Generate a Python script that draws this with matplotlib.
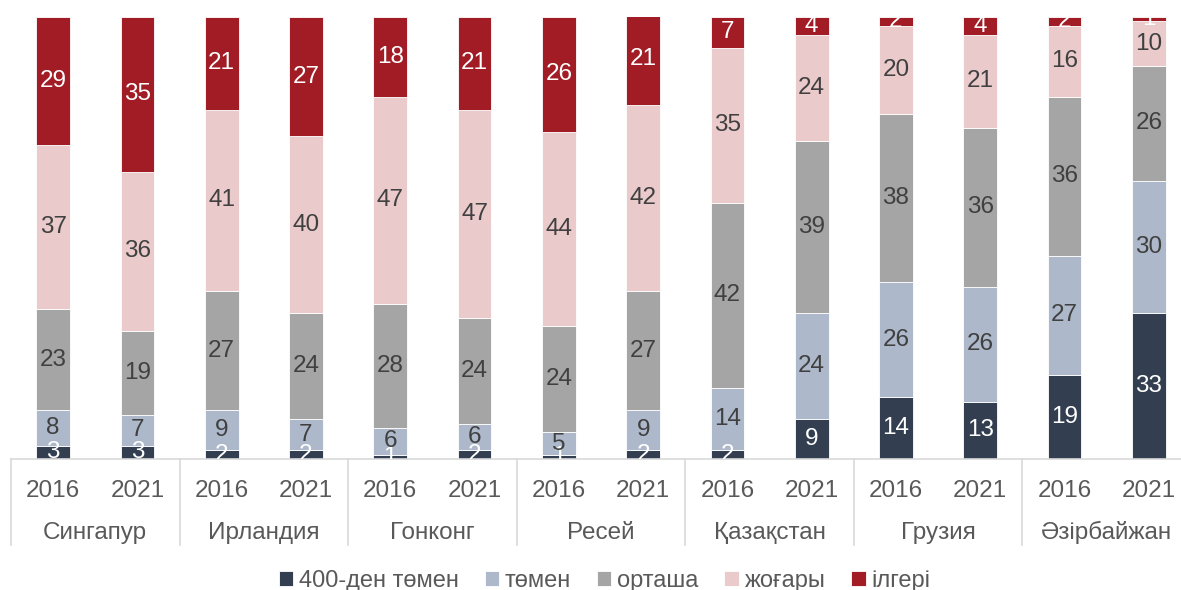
import matplotlib.pyplot as plt
import matplotlib.transforms as mtransforms
import numpy as np

plt.rcParams['font.family'] = ['Liberation Sans', 'DejaVu Sans']

countries = ['Сингапур', 'Ирландия', 'Гонконг', 'Ресей', 'Қазақстан', 'Грузия', 'Әзірбайжан']
years = ['2016', '2021']
levels = ['400-ден төмен', 'төмен', 'орташа', 'жоғары', 'ілгері']

below400 = [3, 3, 2, 2, 1, 2, 1, 2, 2, 9, 14, 13, 19, 33]
low = [8, 7, 9, 7, 6, 6, 5, 9, 14, 24, 26, 26, 27, 30]
medium = [23, 19, 27, 24, 28, 24, 24, 27, 42, 39, 38, 36, 36, 26]
high = [37, 36, 41, 40, 47, 47, 44, 42, 35, 24, 20, 21, 16, 10]
advanced = [29, 35, 21, 27, 18, 21, 26, 21, 7, 4, 2, 4, 2, 1]

series = [below400, low, medium, high, advanced]
colors = ['#333F50', '#ADB9CA', '#A5A5A5', '#EACACB', '#A11C24']
label_colors = ['white', '#404040', '#404040', '#404040', 'white']

fig = plt.figure(figsize=(11.81, 5.90), dpi=100)
ax = fig.add_axes([11 / 1181, 131 / 590, 1180 / 1181, 442 / 590])

x = np.arange(len(below400))
bottom = np.zeros(len(x))
for vals, col, lc, name in zip(series, colors, label_colors, levels):
    vals = np.array(vals)
    ax.bar(x, vals, 0.4, bottom=bottom, color=col, edgecolor='white',
           linewidth=0.6, label=name)
    for xi, b, v in zip(x, bottom, vals):
        ax.text(xi, b + v / 2, str(v), ha='center', va='center', fontsize=17.5,
                color=lc, clip_on=True)
    bottom += vals

ax.set_xlim(-0.5, len(x) - 0.5)
ax.set_ylim(0, 100)
for s in ['left', 'right', 'top']:
    ax.spines[s].set_visible(False)
ax.spines['bottom'].set_color('#D9D9D9')
ax.spines['bottom'].set_linewidth(1.2)
ax.set_yticks([])
ax.set_xticks(x, years * len(countries))
ax.tick_params(axis='x', length=0, pad=15, labelsize=17.5, labelcolor='#595959')

trans = mtransforms.blended_transform_factory(ax.transData, ax.transAxes)
for i, c in enumerate(countries):
    ax.text(2 * i + 0.5, -0.167, c, transform=trans, ha='center', va='center',
            fontsize=17.5, color='#595959')
for k in range(len(countries) + 1):
    ax.plot([2 * k - 0.5, 2 * k - 0.5], [0, -0.195], transform=trans,
            color='#D9D9D9', linewidth=1.2, clip_on=False)

fig.legend(loc='center', bbox_to_anchor=(0.512, 0.015), ncol=5, frameon=False,
           fontsize=17, handlelength=0.6, handleheight=0.6, handletextpad=0.25,
           columnspacing=1.1, labelcolor='#595959')

fig.savefig('out.png', dpi=100)
